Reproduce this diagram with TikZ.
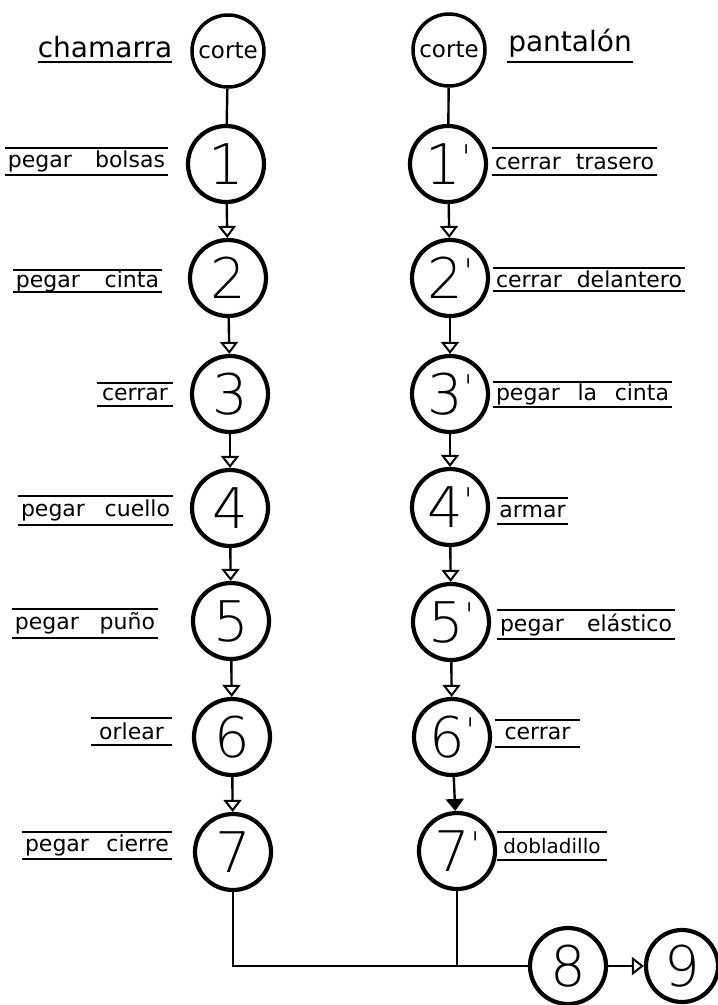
\documentclass[tikz,border=0pt]{standalone}
\usepackage{fontspec}
\setmainfont{DejaVu Sans}
\newfontfamily\thinfont{DejaVu Sans ExtraLight}
\usetikzlibrary{arrows.meta}
\newcommand\primemark{\kern1pt\raisebox{15pt}{\fontsize{34}{34}\selectfont\textquotesingle}}
\begin{document}
\begin{tikzpicture}[x=1pt,y=-1pt,
  stage/.style={circle, draw, line width=4.2pt, inner sep=0pt, minimum size=76pt,
    font=\thinfont\fontsize{56}{56}\selectfont},
  cut/.style={circle, draw, line width=3.5pt, inner sep=0pt, minimum size=72pt,
    font=\fontsize{23}{23}\selectfont},
  rule/.style={line width=1.8pt},
  lab/.style={inner sep=0pt, font=\fontsize{22}{22}\selectfont,
    append after command={(\tikzlastnode.north west) edge[rule] (\tikzlastnode.north east)
      (\tikzlastnode.south west) edge[rule] (\tikzlastnode.south east)}},
  title/.style={inner xsep=0pt, inner ysep=4pt, font=\fontsize{28}{28}\selectfont, anchor=south,
    append after command={(\tikzlastnode.south west) edge[rule] (\tikzlastnode.south east)}},
  link/.style={line width=2.4pt},
  flow/.style={line width=2.4pt, -{Triangle[open, length=12pt, width=18pt, line width=2pt]}},
  flowf/.style={line width=2.4pt, -{Triangle[length=12pt, width=18pt]}},
]
\useasboundingbox (0,0) rectangle (718,1005);

% left column (chamarra)
\node[cut] (cL0) at (228,51) {corte};
\node[stage] (cL1) at (226,164) {1};
\node[stage] (cL2) at (228,278) {2};
\node[stage] (cL3) at (230,394) {3};
\node[stage] (cL4) at (230,508) {4};
\node[stage] (cL5) at (231,621) {5};
\node[stage] (cL6) at (232,737) {6};
\node[stage] (cL7) at (233,852) {7};

% right column (pantalon)
\node[cut] (cR0) at (449,50) {corte};
\node[stage] (cR1) at (448,164) {1\primemark};
\node[stage] (cR2) at (450,278) {2\primemark};
\node[stage] (cR3) at (450,394) {3\primemark};
\node[stage] (cR4) at (450,507) {4\primemark};
\node[stage] (cR5) at (451,622) {5\primemark};
\node[stage] (cR6) at (452,737) {6\primemark};
\node[stage] (cR7) at (457,851) {7\primemark};

% final stages
\node[stage] (c8) at (568,966) {8};
\node[stage, minimum size=72pt] (c9) at (682,966) {9};

% titles
\node[title, minimum width=134pt] (tL) at (105,62) {chamarra};
\node[title, minimum width=125pt] (tR) at (570,62) {pantalón};

% left labels
\node[lab, minimum width=163pt, minimum height=27pt] (lL1) at (86.5,161.5) {\makebox[157pt][s]{pegar bolsas}};
\node[lab, minimum width=149pt, minimum height=22pt] (lL2) at (87.5,281) {\makebox[143pt][s]{pegar cinta}};
\node[lab, minimum width=76pt, minimum height=23pt] (lL3) at (135,394.5) {cerrar};
\node[lab, minimum width=155pt, minimum height=29pt] (lL4) at (95.5,510.5) {\makebox[149pt][s]{pegar cuello}};
\node[lab, minimum width=146pt, minimum height=29pt] (lL5) at (85,623.5) {\makebox[140pt][s]{pegar puño}};
\node[lab, minimum width=81pt, minimum height=27pt] (lL6) at (131.5,731.5) {orlear};
\node[lab, minimum width=150pt, minimum height=27pt] (lL7) at (97,845.5) {\makebox[144pt][s]{pegar cierre}};

% right labels
\node[lab, minimum width=165pt, minimum height=27pt] (lR1) at (574.5,161.5) {\makebox[159pt][s]{cerrar trasero}};
\node[lab, minimum width=192pt, minimum height=23pt] (lR2) at (589,279.5) {\makebox[186pt][s]{cerrar delantero}};
\node[lab, minimum width=179pt, minimum height=25pt] (lR3) at (582.5,394.5) {\makebox[173pt][s]{pegar la cinta}};
\node[lab, minimum width=71pt, minimum height=26pt] (lR4) at (532.5,511) {armar};
\node[lab, minimum width=178pt, minimum height=29pt] (lR5) at (586,624.5) {\makebox[172pt][s]{pegar elástico}};
\node[lab, minimum width=85pt, minimum height=27pt] (lR6) at (537.5,733.5) {cerrar};
\node[lab, minimum width=110pt, minimum height=28pt, font=\fontsize{20}{20}\selectfont] (lR7) at (552,846) {dobladillo};

% connectors
\draw[link] (cL0) -- (cL1);
\draw[flow] (cL1) -- (cL2);
\draw[flow] (cL2) -- (cL3);
\draw[flow] (cL3) -- (cL4);
\draw[flow] (cL4) -- (cL5);
\draw[flow] (cL5) -- (cL6);
\draw[flow] (cL6) -- (cL7);

\draw[link] (cR0) -- (cR1);
\draw[flow] (cR1) -- (cR2);
\draw[flow] (cR2) -- (cR3);
\draw[flow] (cR3) -- (cR4);
\draw[flow] (cR4) -- (cR5);
\draw[flow] (cR5) -- (cR6);
\draw[flowf] (cR6) -- (cR7);

\coordinate (jL) at (cL7 |- c8);
\coordinate (jR) at (cR7 |- c8);
\draw[link] (cL7) -- (jL) -- (c8);
\draw[link] (cR7) -- (jR);
\draw[flow] (c8) -- (c9);
\end{tikzpicture}
\end{document}
